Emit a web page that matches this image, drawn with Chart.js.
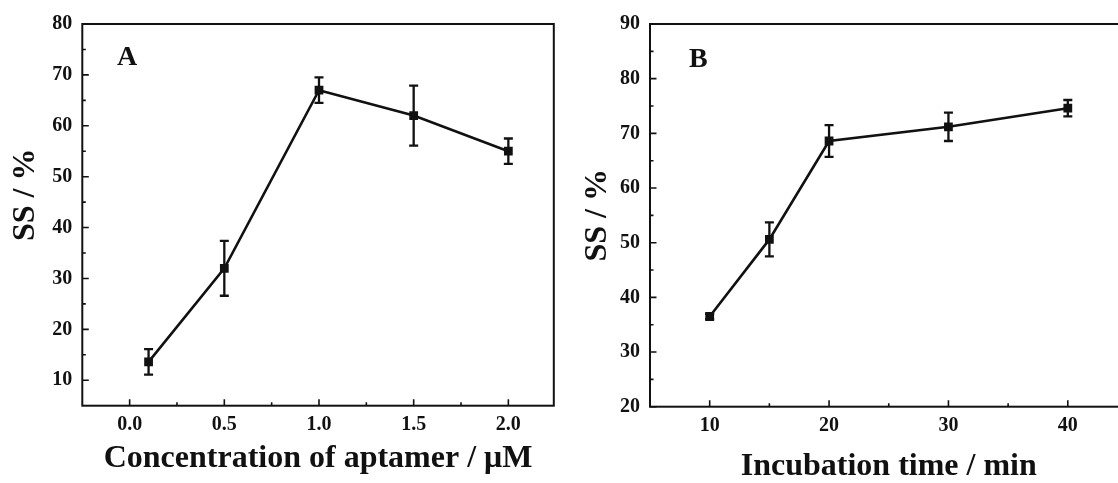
<!DOCTYPE html>
<html><head><meta charset="utf-8">
<script src="https://cdn.jsdelivr.net/npm/chart.js@4.4.1/dist/chart.umd.min.js"></script>
<style>
html,body{margin:0;padding:0;background:#fff;overflow:hidden;}
#wrap{position:relative;width:1118px;height:483px;overflow:hidden;background:#fff;}
#cA{position:absolute;left:0;top:0;}
#cB{position:absolute;left:560px;top:0;}
</style></head><body>
<div id="wrap"><canvas id="cA" width="560" height="483"></canvas><canvas id="cB" width="620" height="500"></canvas></div>
<script>
// Panel A data
const concA = [0.1, 0.5, 1.0, 1.5, 2.0];
const ssA = [13.6, 32.0, 67.0, 62.0, 55.0];
const errA = [2.5, 5.4, 2.5, 5.9, 2.5];
// Panel B data
const timeB = [10, 15, 20, 30, 40];
const ssB = [36.5, 50.6, 68.6, 71.2, 74.6];
const errB = [0.5, 3.1, 2.9, 2.6, 1.5];
// Ticks
const xTicksA = [0, 0.5, 1.0, 1.5, 2.0];
const xMinorA = [0.25, 0.75, 1.25, 1.75];
const yTicksA = [10, 20, 30, 40, 50, 60, 70, 80];
const yMinorA = [15, 25, 35, 45, 55, 65, 75];
const xTicksB = [10, 20, 30, 40];
const xMinorB = [15, 25, 35];
const yTicksB = [20, 30, 40, 50, 60, 70, 80, 90];
const yMinorB = [25, 35, 45, 55, 65, 75, 85];

const FONT = '"Liberation Serif", "Times New Roman", serif';
const INK = '#111';

const panelPlugin = {
  id: 'panel',
  beforeDatasetsDraw(chart, args, o) {
    const {ctx, scales: {x, y}} = chart;
    ctx.save();
    ctx.strokeStyle = INK; ctx.lineWidth = 2.3;
    o.xs.forEach((xv, i) => {
      const px = x.getPixelForValue(xv);
      const t = y.getPixelForValue(o.ys[i] + o.err[i]);
      const b = y.getPixelForValue(o.ys[i] - o.err[i]);
      ctx.beginPath();
      ctx.moveTo(px, t); ctx.lineTo(px, b);
      ctx.moveTo(px - 4.5, t); ctx.lineTo(px + 4.5, t);
      ctx.moveTo(px - 4.5, b); ctx.lineTo(px + 4.5, b);
      ctx.stroke();
    });
    ctx.restore();
  },
  afterDatasetsDraw(chart, args, o) {
    const {ctx, chartArea: a, scales: {x, y}} = chart;
    ctx.save();
    ctx.strokeStyle = INK;
    ctx.lineWidth = 2;
    ctx.strokeRect(a.left, a.top, a.right - a.left, a.bottom - a.top);
    ctx.lineWidth = 1.6;
    ctx.beginPath();
    const xt = (vals, len) => vals.forEach(v => { const p = x.getPixelForValue(v); ctx.moveTo(p, a.bottom); ctx.lineTo(p, a.bottom - len); });
    const yt = (vals, len) => vals.forEach(v => { const p = y.getPixelForValue(v); ctx.moveTo(a.left, p); ctx.lineTo(a.left + len, p); });
    xt(o.xMajor, 6.5); xt(o.xMinor, 3.5);
    yt(o.yMajor, 6.5); yt(o.yMinor, 3.5);
    ctx.stroke();
    ctx.fillStyle = INK;
    ctx.font = 'bold 28px ' + FONT;
    ctx.textBaseline = 'alphabetic';
    ctx.textAlign = 'left';
    ctx.fillText(o.label, o.lx, o.ly);
    ctx.restore();
  }
};

function makeChart(id, cfg) {
  return new Chart(document.getElementById(id), {
    type: 'line',
    data: {
      datasets: [{
        data: cfg.xs.map((v, i) => ({x: v, y: cfg.ys[i]})),
        borderColor: INK, backgroundColor: INK,
        borderWidth: 2.6, tension: 0,
        pointStyle: 'rect', pointRadius: 6.2, pointHoverRadius: 6.2,
        pointBorderWidth: 0
      }]
    },
    options: {
      responsive: false, animation: false,
      events: [],
      layout: {padding: {top: 24, right: cfg.padRight, left: 0, bottom: 0}},
      plugins: {
        legend: {display: false}, tooltip: {enabled: false},
        panel: {xs: cfg.xs, ys: cfg.ys, err: cfg.err, xMajor: cfg.xTicks, xMinor: cfg.xMinor,
                yMajor: cfg.yTicks, yMinor: cfg.yMinor, label: cfg.label, lx: cfg.lx, ly: cfg.ly}
      },
      scales: {
        x: {
          type: 'linear', min: cfg.xMin, max: cfg.xMax,
          grid: {display: false, drawTicks: false}, border: {display: false},
          afterBuildTicks: s => { s.ticks = cfg.xTicks.map(v => ({value: v})); },
          afterFit: s => { s.height = cfg.xAxisH; },
          ticks: {
            color: INK, padding: 7.3, maxRotation: 0, autoSkip: false,
            font: {family: FONT, weight: 'bold', size: 20},
            callback: cfg.xFmt
          },
          title: {display: true, text: cfg.xTitle, color: INK,
                  font: {family: FONT, weight: 'bold', size: 32},
                  padding: {top: 0, bottom: cfg.xTitlePad}}
        },
        y: {
          type: 'linear', min: cfg.yMin, max: cfg.yMax,
          grid: {display: false, drawTicks: false}, border: {display: false},
          afterBuildTicks: s => { s.ticks = cfg.yTicks.map(v => ({value: v})); },
          afterFit: s => { s.width = cfg.yAxisW; },
          ticks: {
            color: INK, padding: 10,
            font: {family: FONT, weight: 'bold', size: 20},
            callback: v => String(v)
          },
          title: {display: true, text: cfg.yTitle, color: INK,
                  font: {family: FONT, weight: 'bold', size: 32},
                  padding: {top: cfg.yTitlePad, bottom: 0}}
        }
      }
    },
    plugins: [panelPlugin]
  });
}

makeChart('cA', {
  xs: concA, ys: ssA, err: errA,
  xMin: -0.25, xMax: 2.24, yMin: 5, yMax: 80,
  xTicks: xTicksA, xMinor: xMinorA, yTicks: yTicksA, yMinor: yMinorA,
  xFmt: v => Number(v).toFixed(1),
  xTitle: 'Concentration of aptamer / \u03BCM', yTitle: '\u00A0\u00A0\u00A0\u00A0\u00A0SS / %',
  padRight: 5.6, xAxisH: 77.3, yAxisW: 82.3, xTitlePad: 5, yTitlePad: 7,
  label: 'A', lx: 117, ly: 65
});

makeChart('cB', {
  xs: timeB, ys: ssB, err: errB,
  xMin: 5, xMax: 45, yMin: 20, yMax: 90,
  xTicks: xTicksB, xMinor: xMinorB, yTicks: yTicksB, yMinor: yMinorB,
  xFmt: v => String(v),
  xTitle: 'Incubation time / min', yTitle: 'SS / %',
  padRight: 52.5, xAxisH: 93.3, yAxisW: 90, xTitlePad: 14.3, yTitlePad: 18.3,
  label: 'B', lx: 129, ly: 66.7
});
</script>
</body></html>
